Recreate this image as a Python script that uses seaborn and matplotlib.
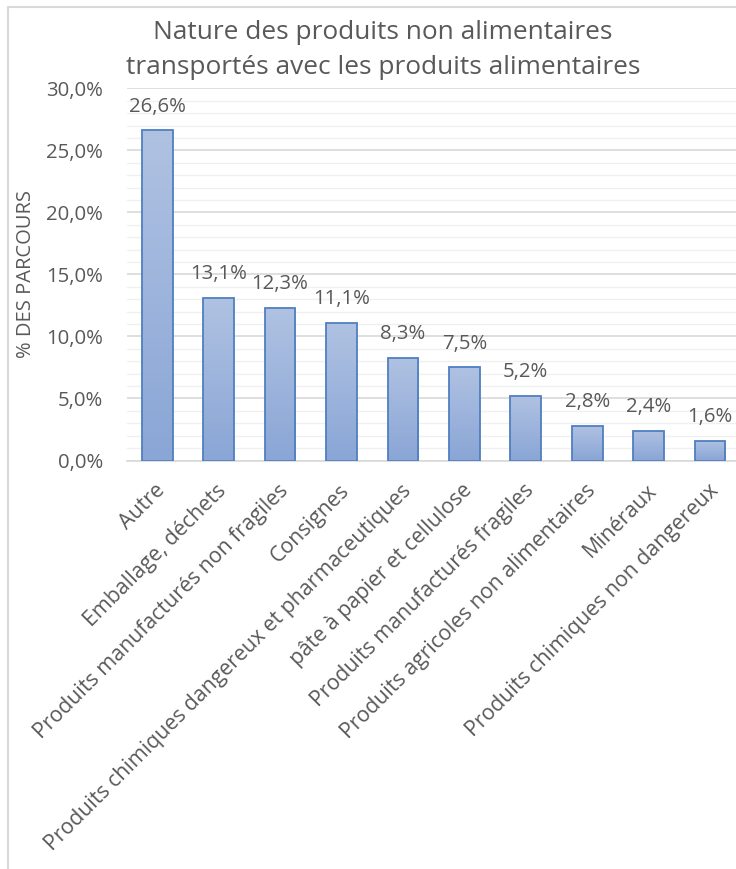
import numpy as np
import pandas as pd
import matplotlib
matplotlib.use("Agg")
import matplotlib.pyplot as plt
import seaborn as sns
from matplotlib.lines import Line2D
from matplotlib.colors import LinearSegmentedColormap
from matplotlib.ticker import MultipleLocator, FuncFormatter
import matplotlib.transforms as mtransforms

categories = ["Autre", "Emballage, déchets", "Produits manufacturés non fragiles",
              "Consignes", "Produits chimiques dangereux et pharmaceutiques",
              "pâte à papier et cellulose", "Produits manufacturés fragiles",
              "Produits agricoles non alimentaires", "Minéraux",
              "Produits chimiques non dangereux"]
values = [26.6, 13.1, 12.3, 11.1, 8.3, 7.5, 5.2, 2.8, 2.4, 1.6]
title = "Nature des produits non alimentaires\ntransportés avec les produits alimentaires"
ylabel = "% DES PARCOURS"

sns.set_theme(style="white")
plt.rcParams['font.family'] = ['Open Sans', 'DejaVu Sans']
grey = "#595959"

df = pd.DataFrame({"cat": categories, "val": values})
fig = plt.figure(figsize=(7.36, 8.69), dpi=100)
W, H = 736, 869
ax = fig.add_axes([126.6 / W, (H - 460.5) / H, (740.7 - 126.6) / W, (460.5 - 88.3) / H])

sns.barplot(data=df, x="cat", y="val", ax=ax, width=0.5, color="#9db3dc",
            edgecolor="#4f7fc0", linewidth=1.3, zorder=3)

# gradient fill clipped to each bar
cmap = LinearSegmentedColormap.from_list("g", ["#8aa6d6", "#b0c2e2"])
grad = np.linspace(0, 1, 256).reshape(-1, 1)
for p in ax.patches:
    x0, y0 = p.get_x(), p.get_y()
    w, h = p.get_width(), p.get_height()
    im = ax.imshow(grad, cmap=cmap, aspect="auto", origin="lower",
                   extent=[x0, x0 + w, y0, y0 + h], zorder=3.5)
    im.set_clip_path(p)
    p.set_facecolor("none")
    p.set_zorder(4)
ax.set_xlim(-0.5, len(categories) - 0.5)
ax.set_ylim(0, 30)

# gridlines
ax.yaxis.set_major_locator(MultipleLocator(5))
ax.yaxis.set_minor_locator(MultipleLocator(1))
ax.grid(axis="y", which="major", color="#d9d9d9", linewidth=1.2, zorder=0)
ax.grid(axis="y", which="minor", color="#f0f0f0", linewidth=1.0, zorder=0)
ax.set_axisbelow(True)
for s in ["top", "right", "left"]:
    ax.spines[s].set_visible(False)
ax.spines["bottom"].set_color("#d9d9d9")
ax.spines["bottom"].set_linewidth(1.2)

ax.yaxis.set_major_formatter(FuncFormatter(lambda v, pos: f"{v:.1f}%".replace(".", ",")))
ax.tick_params(axis="y", which="both", length=0, labelsize=14.7, labelcolor=grey, pad=17)
ax.tick_params(axis="x", length=0, labelsize=15.3, labelcolor=grey, pad=0)
ax.set_xticks(range(len(categories)))
ax.set_xticklabels(categories, rotation=45, ha="right", va="center", rotation_mode="anchor")
off = mtransforms.ScaledTranslation(5 / 100, -27 / 100, fig.dpi_scale_trans)
for lab in ax.get_xticklabels():
    lab.set_transform(lab.get_transform() + off)

ax.set_xlabel("")
ax.set_ylabel(ylabel, fontsize=14.5, color=grey)
ax.yaxis.set_label_coords(-(126.6 - 26) / (740.7 - 126.6), 0.5)
ax.yaxis.label.set_va("center")

for i, v in enumerate(values):
    ax.annotate(f"{v:.1f}%".replace(".", ","), (i, v), xytext=(0, 10), textcoords="offset points",
                ha="center", va="bottom", fontsize=14.7, color=grey)

fig.text(383 / W, 1 - 50 / H, title, ha="center", va="center", fontsize=18.9, color=grey,
         linespacing=1.55)

# chart frame
fig.add_artist(Line2D([8 / W, 8 / W], [0, 1 - 7 / H], transform=fig.transFigure, color="#d9d9d9", lw=1.5))
fig.add_artist(Line2D([8 / W, 1], [1 - 7 / H, 1 - 7 / H], transform=fig.transFigure, color="#d9d9d9", lw=1.5))

fig.savefig("out.png", dpi=100, facecolor="white")
